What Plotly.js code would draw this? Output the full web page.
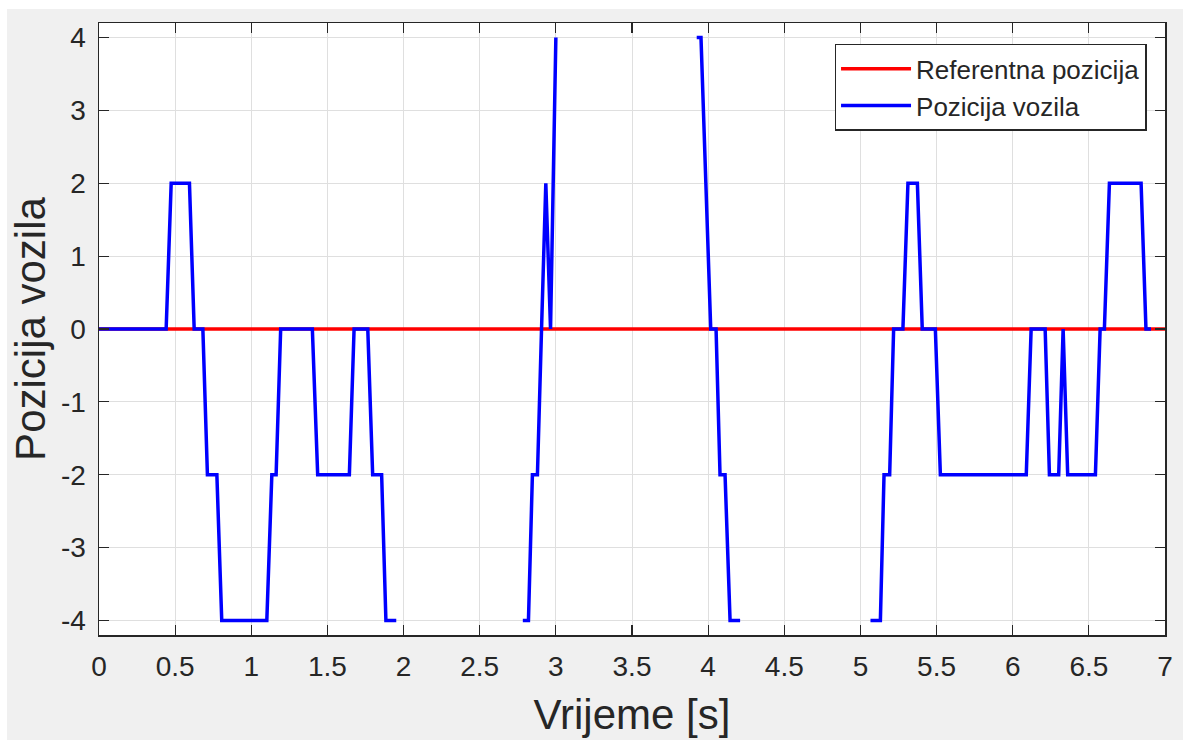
<!DOCTYPE html>
<html>
<head>
<meta charset="utf-8">
<script src="https://cdn.plot.ly/plotly-3.0.1.min.js"></script>
<style>
  html, body { margin: 0; padding: 0; background: #ffffff; width: 1183px; height: 740px; overflow: hidden; }
  #chart { position: absolute; left: 7px; top: 9px; width: 1176px; height: 731px; }
</style>
</head>
<body>
<div id="chart"></div>
<script>
// Reference position (red)
const refTime = [0, 7];
const refPos = [0, 0];

// Vehicle position (blue); null marks where the signal leaves the visible range
const vehTime = [
  0, 0.441, 0.474, 0.594, 0.625, 0.682, 0.712, 0.774, 0.806, 1.102,
  1.135, 1.163, 1.193, 1.401, 1.436, 1.644, 1.675, 1.765, 1.797, 1.856,
  1.884, 1.952, 2.3,
  2.783, 2.820, 2.846, 2.879, 2.906, 2.934, 2.965, 3.000, 3.5,
  3.925, 3.953, 3.985, 4.017, 4.052, 4.078, 4.111, 4.144, 4.210, 4.6,
  5.066, 5.131, 5.155, 5.192, 5.218, 5.279, 5.312, 5.374, 5.406, 5.492,
  5.525, 6.089, 6.121, 6.213, 6.241, 6.302, 6.331, 6.361, 6.543, 6.574,
  6.602, 6.635, 6.843, 6.875, 6.908
];
const vehPos = [
  0, 0, 2, 2, 0, 0, -2, -2, -4, -4,
  -2, -2, 0, 0, -2, -2, 0, 0, -2, -2,
  -4, -4, null,
  -4, -4, -2, -2, 0, 2, 0, 4, null,
  4, 4, 2, 0, 0, -2, -2, -4, -4, null,
  -4, -4, -2, -2, 0, 0, 2, 2, 0, 0,
  -2, -2, 0, 0, -2, -2, 0, -2, -2, 0,
  0, 2, 2, 0, 0
];

const xTicks = [0, 0.5, 1, 1.5, 2, 2.5, 3, 3.5, 4, 4.5, 5, 5.5, 6, 6.5, 7];
const xTickText = ["0", "0.5", "1", "1.5", "2", "2.5", "3", "3.5", "4", "4.5", "5", "5.5", "6", "6.5", "7"];
const yTicks = [-4, -3, -2, -1, 0, 1, 2, 3, 4];
const yTickText = ["-4", "-3", "-2", "-1", "0", "1", "2", "3", "4"];

const seriesNames = ["Referentna pozicija", "Pozicija vozila"];

const traces = [
  { x: refTime, y: refPos, type: 'scatter', mode: 'lines', name: seriesNames[0],
    line: { color: '#ff0000', width: 3.5 } },
  { x: vehTime, y: vehPos, type: 'scatter', mode: 'lines', name: seriesNames[1],
    connectgaps: false, line: { color: '#0000ff', width: 3.5 } }
];

const axisCommon = {
  showline: true, linecolor: '#262626', linewidth: 1.5, mirror: 'allticks',
  ticks: 'inside', ticklen: 10, tickwidth: 1.2, tickcolor: '#262626',
  showgrid: true, gridcolor: '#dfdfdf', gridwidth: 1,
  zeroline: false, tickfont: { size: 28, color: '#262626' }
};

const layout = {
  width: 1176, height: 731,
  paper_bgcolor: '#f0f0f0', plot_bgcolor: '#ffffff',
  font: { family: 'Liberation Sans, Arial, sans-serif', color: '#262626' },
  margin: { l: 92, r: 18, t: 14, b: 105 },
  showlegend: true,
  xaxis: Object.assign({}, axisCommon, {
    range: [0, 7], tickvals: xTicks, ticktext: xTickText,
    ticklabelstandoff: 6,
    title: { text: 'Vrijeme [s]', font: { size: 42, color: '#262626' }, standoff: 18 }
  }),
  yaxis: Object.assign({}, axisCommon, {
    range: [-4.2, 4.2], tickvals: yTicks, ticktext: yTickText,
    ticklabelstandoff: 6,
    title: { text: 'Pozicija vozila', font: { size: 42, color: '#262626' }, standoff: 14 }
  }),
  legend: {
    x: 0.69, y: 0.966, xanchor: 'left', yanchor: 'top',
    bgcolor: '#ffffff', bordercolor: '#262626', borderwidth: 1.5,
    font: { size: 26, color: '#262626' }, itemwidth: 70,
    tracegroupgap: 0
  }
};

Plotly.newPlot('chart', traces, layout, { displayModeBar: false, staticPlot: true });
</script>
</body>
</html>
